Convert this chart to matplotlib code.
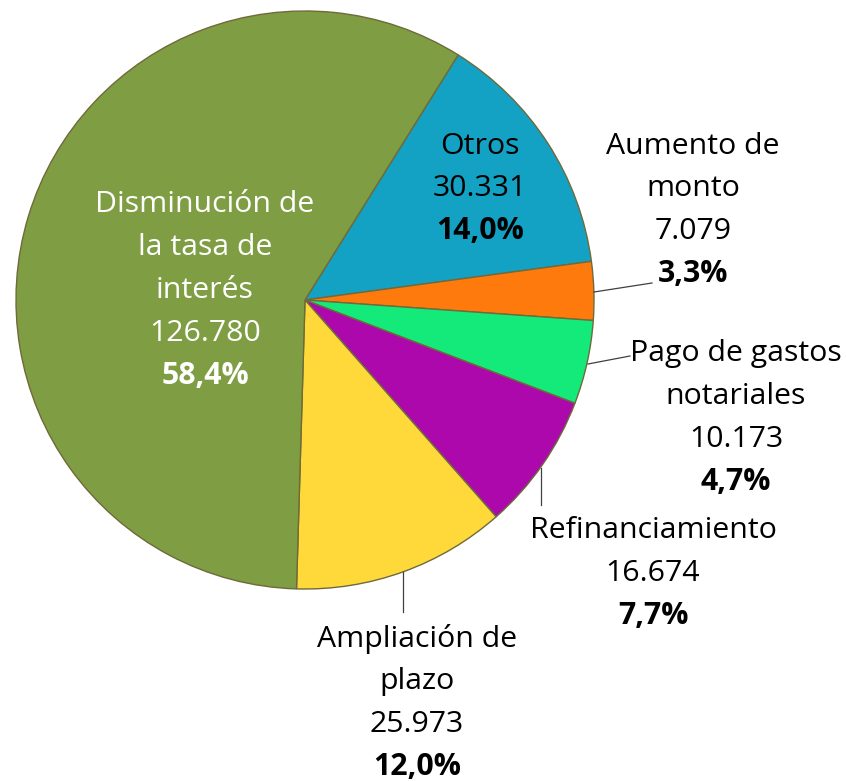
import matplotlib
matplotlib.use("Agg")
import matplotlib.pyplot as plt

categories = ["Otros", "Aumento de\nmonto", "Pago de gastos\nnotariales",
              "Refinanciamiento", "Ampliación de\nplazo",
              "Disminución de\nla tasa de\ninterés"]
values = [30331, 7079, 10173, 16674, 25973, 126780]
colors = ["#13A1C4", "#FF7A0C", "#13EA7A", "#AC08AC", "#FFD83A", "#7F9D43"]

W, H = 846, 781
fig = plt.figure(figsize=(W / 100, H / 100), dpi=100)
ax = fig.add_axes([0, 0, 1, 1])
ax.set_xlim(0, W)
ax.set_ylim(0, H)
ax.set_aspect("equal")
ax.axis("off")

cx, cy, R = 305, H - 300, 289
wedges, _ = ax.pie(values, colors=colors, startangle=58, counterclock=False,
                   center=(cx, cy), radius=R,
                   wedgeprops=dict(edgecolor="#6f6a3a", linewidth=1.0))
ax.set_xlim(0, W)
ax.set_ylim(0, H)

total = sum(values)
def fmt_val(v):
    return f"{v:,}".replace(",", ".")
def fmt_pct(v):
    return f"{100 * v / total:.1f}%".replace(".", ",")

# label layout: (center x, first line y in pixels from top, color)
layout = [
    (480, 146, "black"),
    (693, 146, "black"),
    (736, 354, "black"),
    (653, 531, "black"),
    (417, 639, "black"),
    (205, 205, "white"),
]
step = 42.7
font = "Open Sans"
fs = 21.8
for cat, v, (x, y0, col) in zip(categories, values, layout):
    lines = cat.split("\n") + [fmt_val(v)]
    y = y0
    for ln in lines:
        ax.text(x, H - y, ln, ha="center", va="center", fontsize=fs,
                color=col, family=font)
        y += step
    ax.text(x, H - y, fmt_pct(v), ha="center", va="center", fontsize=fs,
            color=col, family=font, fontweight="bold")

# leader lines
leaders = [
    ((594, 292), (652, 283)),
    ((588, 364), (630, 356)),
    ((541, 468), (541, 505)),
    ((403, 572), (403, 612)),
]
for (x1, y1), (x2, y2) in leaders:
    ax.plot([x1, x2], [H - y1, H - y2], color="#404040", linewidth=0.9)

fig.savefig("out.png", dpi=100)
